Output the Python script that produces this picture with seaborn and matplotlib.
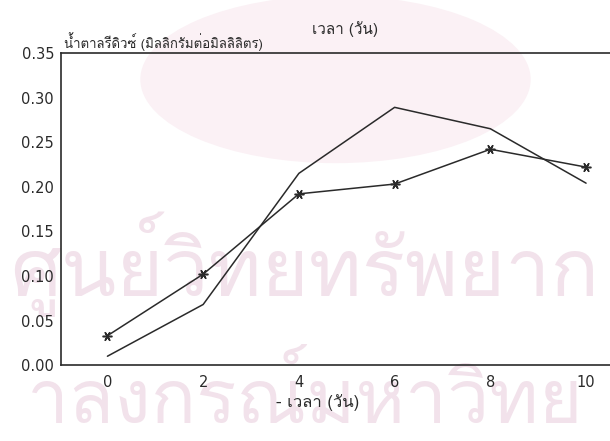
import matplotlib
matplotlib.use("Agg")
import matplotlib.pyplot as plt
from matplotlib import font_manager
from matplotlib.ft2font import FT2Font
from matplotlib.patches import Ellipse
import seaborn as sns
import pandas as pd

# Reducing sugar over time, two treatments
days = [0, 2, 4, 6, 8, 10]
sugar_plain = [0.010, 0.068, 0.215, 0.289, 0.265, 0.204]
sugar_cross = [0.033, 0.102, 0.192, 0.203, 0.242, 0.222]
y_ticks = [0.00, 0.05, 0.10, 0.15, 0.20, 0.25, 0.30, 0.35]
x_ticks = [0, 2, 4, 6, 8, 10]

title_text = "เวลา (วัน)"
ylabel_text = "น้ำตาลรีดิวซ์ (มิลลิกรัมต่อมิลลิลิตร)"
xlabel_text = "- เวลา (วัน)"
mark_top = "ศูนย์วิทยทรัพยาก"
mark_bottom = "าลงกรณ์มหาวิทย"


def thai_family():
    seen = set()
    for f in font_manager.fontManager.ttflist:
        if f.name in seen:
            continue
        seen.add(f.name)
        try:
            if 0x0E01 in FT2Font(f.fname).get_charmap():
                return f.name
        except Exception:
            pass
    return "DejaVu Sans"


sns.set_theme(style="white")
thai = thai_family()
plt.rcParams["font.family"] = ["DejaVu Sans", thai]

df = pd.DataFrame({
    "day": days * 2,
    "sugar": sugar_plain + sugar_cross,
    "series": ["plain"] * len(days) + ["cross"] * len(days),
})

fig = plt.figure(figsize=(6.10, 4.41), dpi=100)

# faint background seal and lettering
bg = fig.add_axes([0, 0, 1, 1], zorder=0)
bg.set_axis_off()
bg.set_xlim(0, 1)
bg.set_ylim(0, 1)
bg.add_patch(Ellipse((0.55, 0.82), 0.64, 0.38, color="#fbf1f5", lw=0))
bg.text(0.5, 0.40, mark_top, ha="center", va="center", fontsize=58,
        color="#f2e2eb", family=[thai])
bg.text(0.5, 0.095, mark_bottom, ha="center", va="center", fontsize=54,
        color="#f2e2eb", family=[thai])

ax = fig.add_axes([0.100, 0.172, 0.900, 0.708], zorder=1)
ax.patch.set_alpha(0)

ink = "#2a2a2a"
sns.lineplot(data=df[df.series == "plain"], x="day", y="sugar", ax=ax,
             color=ink, lw=1.1, marker=None, estimator=None)
sns.lineplot(data=df[df.series == "cross"], x="day", y="sugar", ax=ax,
             color=ink, lw=1.1, marker=(6, 2, 90), markersize=7,
             markeredgewidth=1.1, markeredgecolor=ink, estimator=None)

ax.set_xlim(-0.97, 10.5)
ax.set_ylim(0, 0.35)
ax.set_xticks(x_ticks)
ax.set_yticks(y_ticks)
ax.set_yticklabels([f"{v:.2f}" for v in y_ticks])
ax.tick_params(direction="in", length=5, width=1.0, colors=ink,
               labelsize=10.5, pad=7)
ax.tick_params(axis="y", pad=5)
ax.set_xlabel("")
ax.set_ylabel("")
for side in ["left", "bottom", "top"]:
    ax.spines[side].set_visible(True)
    ax.spines[side].set_color(ink)
    ax.spines[side].set_linewidth(1.2)
ax.spines["right"].set_visible(False)

fig.text(0.105, 0.905, ylabel_text, ha="left", va="center", fontsize=9.5,
         color=ink, family=[thai])
fig.text(0.565, 0.935, title_text, ha="center", va="center", fontsize=11,
         color=ink, family=[thai])
fig.text(0.52, 0.088, xlabel_text, ha="center", va="center", fontsize=12,
         color=ink, family=[thai])

fig.savefig("out.png", dpi=100)
